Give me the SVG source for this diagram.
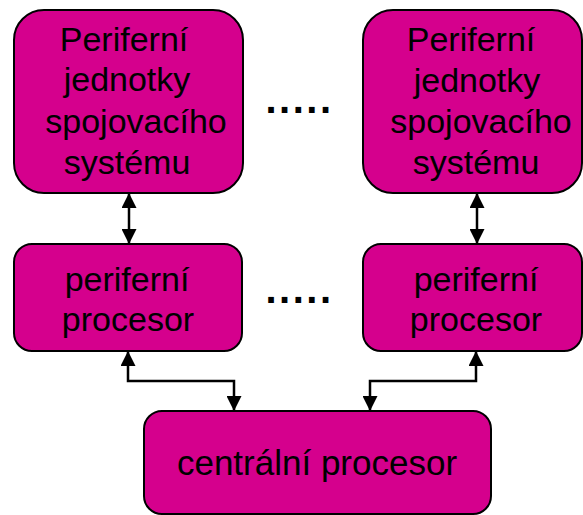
<svg xmlns="http://www.w3.org/2000/svg" width="583" height="515" viewBox="0 0 583 515">
  <defs>
    <style>
      .box { fill: #D5008D; stroke: #000; stroke-width: 2; }
      .lbl { font-family: "Liberation Sans", Arial, sans-serif; font-size: 34px; fill: #000; text-anchor: middle; }
      .big { font-size: 35px; }
      .dots { font-family: "Liberation Sans", Arial, sans-serif; font-size: 40px; font-weight: bold; letter-spacing: 2.5px; fill: #000; }
      .link { fill: none; stroke: #000; stroke-width: 2.5; }
    </style>
    <marker id="head" viewBox="0 0 15 15" refX="15" refY="7.5" markerWidth="15" markerHeight="15" markerUnits="userSpaceOnUse" orient="auto-start-reverse">
      <path d="M0,0 L15,7.5 L0,15 Z" fill="#000"/>
    </marker>
  </defs>

  <g id="unit-left">
    <rect class="box" x="14" y="10" width="229" height="183" rx="30" ry="30"/>
    <text class="lbl" x="124" y="51">Periferní</text>
    <text class="lbl" x="127" y="91">jednotky</text>
    <text class="lbl" x="136" y="133">spojovacího</text>
    <text class="lbl" x="127" y="174">systému</text>
  </g>

  <g id="unit-right">
    <rect class="box" x="363" y="10" width="219" height="183" rx="30" ry="30"/>
    <text class="lbl" x="471" y="51">Periferní</text>
    <text class="lbl" x="477" y="92">jednotky</text>
    <text class="lbl" x="481" y="133">spojovacího</text>
    <text class="lbl" x="476" y="174">systému</text>
  </g>

  <g id="pp-left">
    <rect class="box" x="14" y="244" width="228" height="107" rx="18" ry="18"/>
    <text class="lbl" x="127" y="291">periferní</text>
    <text class="lbl" x="128" y="331">procesor</text>
  </g>

  <g id="pp-right">
    <rect class="box" x="363" y="244" width="219" height="107" rx="18" ry="18"/>
    <text class="lbl" x="476" y="291">periferní</text>
    <text class="lbl" x="476" y="331">procesor</text>
  </g>

  <g id="cpu">
    <rect class="box" x="144" y="411" width="347" height="103" rx="18" ry="18"/>
    <text class="lbl big" x="317" y="475">centrální procesor</text>
  </g>

  <g id="ellipsis">
    <text class="dots" x="265.5" y="112.5">.....</text>
    <text class="dots" x="265.5" y="302.5">.....</text>
  </g>

  <g id="connectors">
    <line class="link" x1="129" y1="193" x2="129" y2="244" marker-start="url(#head)" marker-end="url(#head)"/>
    <line class="link" x1="477" y1="193" x2="477" y2="244" marker-start="url(#head)" marker-end="url(#head)"/>
    <polyline class="link" points="128,351 128,381 234,381 234,411" marker-start="url(#head)" marker-end="url(#head)"/>
    <polyline class="link" points="476,351 476,381 370,381 370,411" marker-start="url(#head)" marker-end="url(#head)"/>
  </g>
</svg>
